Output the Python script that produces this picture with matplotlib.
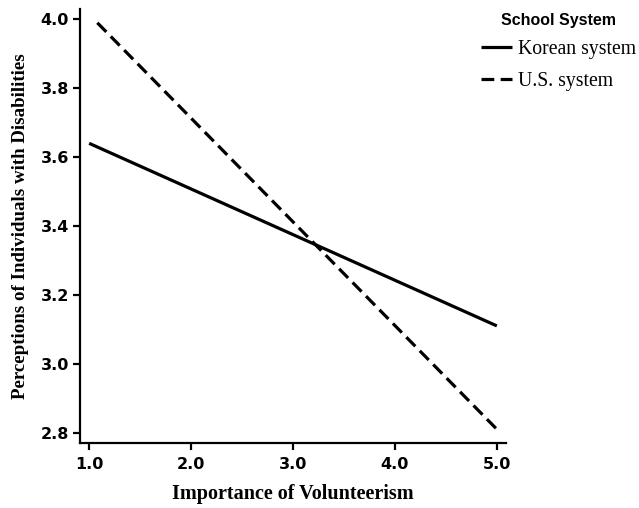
import numpy as np
import matplotlib
matplotlib.use("Agg")
import matplotlib.pyplot as plt

# Data (end points of the two fitted lines)
korean_x = [1.0, 5.0]
korean_y = [3.64, 3.11]
us_x = [1.08, 5.0]
us_y = [3.99, 2.81]

x_ticks = [1.0, 2.0, 3.0, 4.0, 5.0]
y_ticks = [2.8, 3.0, 3.2, 3.4, 3.6, 3.8, 4.0]

fig = plt.figure(figsize=(6.39, 5.08), dpi=100)
ax = fig.add_axes([80 / 639, 65 / 508, 426 / 639, 434 / 508])

ax.plot(korean_x, korean_y, color="black", lw=2.3, solid_capstyle="butt",
        label="Korean system")
ax.plot(us_x, us_y, color="black", lw=2.3, dashes=(4, 2),
        label="U.S. system")

ax.set_xlim(0.91, 5.09)
ax.set_ylim(2.77, 4.03)
ax.set_xticks(x_ticks)
ax.set_yticks(y_ticks)
ax.set_xticklabels(["{:.1f}".format(v) for v in x_ticks])
ax.set_yticklabels(["{:.1f}".format(v) for v in y_ticks])

for side in ["top", "right"]:
    ax.spines[side].set_visible(False)
for side in ["left", "bottom"]:
    ax.spines[side].set_linewidth(1.6)

ax.tick_params(direction="out", length=5, width=1.6, pad=3)
ax.tick_params(axis="x", pad=5)
for lab in ax.get_xticklabels() + ax.get_yticklabels():
    lab.set_fontfamily("DejaVu Sans")
    lab.set_fontweight("bold")
    lab.set_fontsize(11.5)

ax.set_xlabel("Importance of Volunteerism", fontfamily="Liberation Serif",
              fontweight="bold", fontsize=14.5, labelpad=9)
ax.set_ylabel("Perceptions of Individuals with Disabilities",
              fontfamily="Liberation Serif", fontweight="bold", fontsize=13.6,
              labelpad=8)

leg = ax.legend(loc="upper left", bbox_to_anchor=(467 / 639, 1 + 1 / 508),
                bbox_transform=fig.transFigure, frameon=False,
                title="School System", handlelength=1.6, handletextpad=0.3,
                labelspacing=0.62, borderpad=0.2,
                prop={"family": "Liberation Serif", "size": 14.2})
leg.get_title().set_fontfamily("Liberation Sans")
leg.get_title().set_fontweight("bold")
leg.get_title().set_fontsize(11.5)
leg._legend_box.align = "center"
leg._legend_box.sep = 9

fig.savefig("out.png", dpi=100)
